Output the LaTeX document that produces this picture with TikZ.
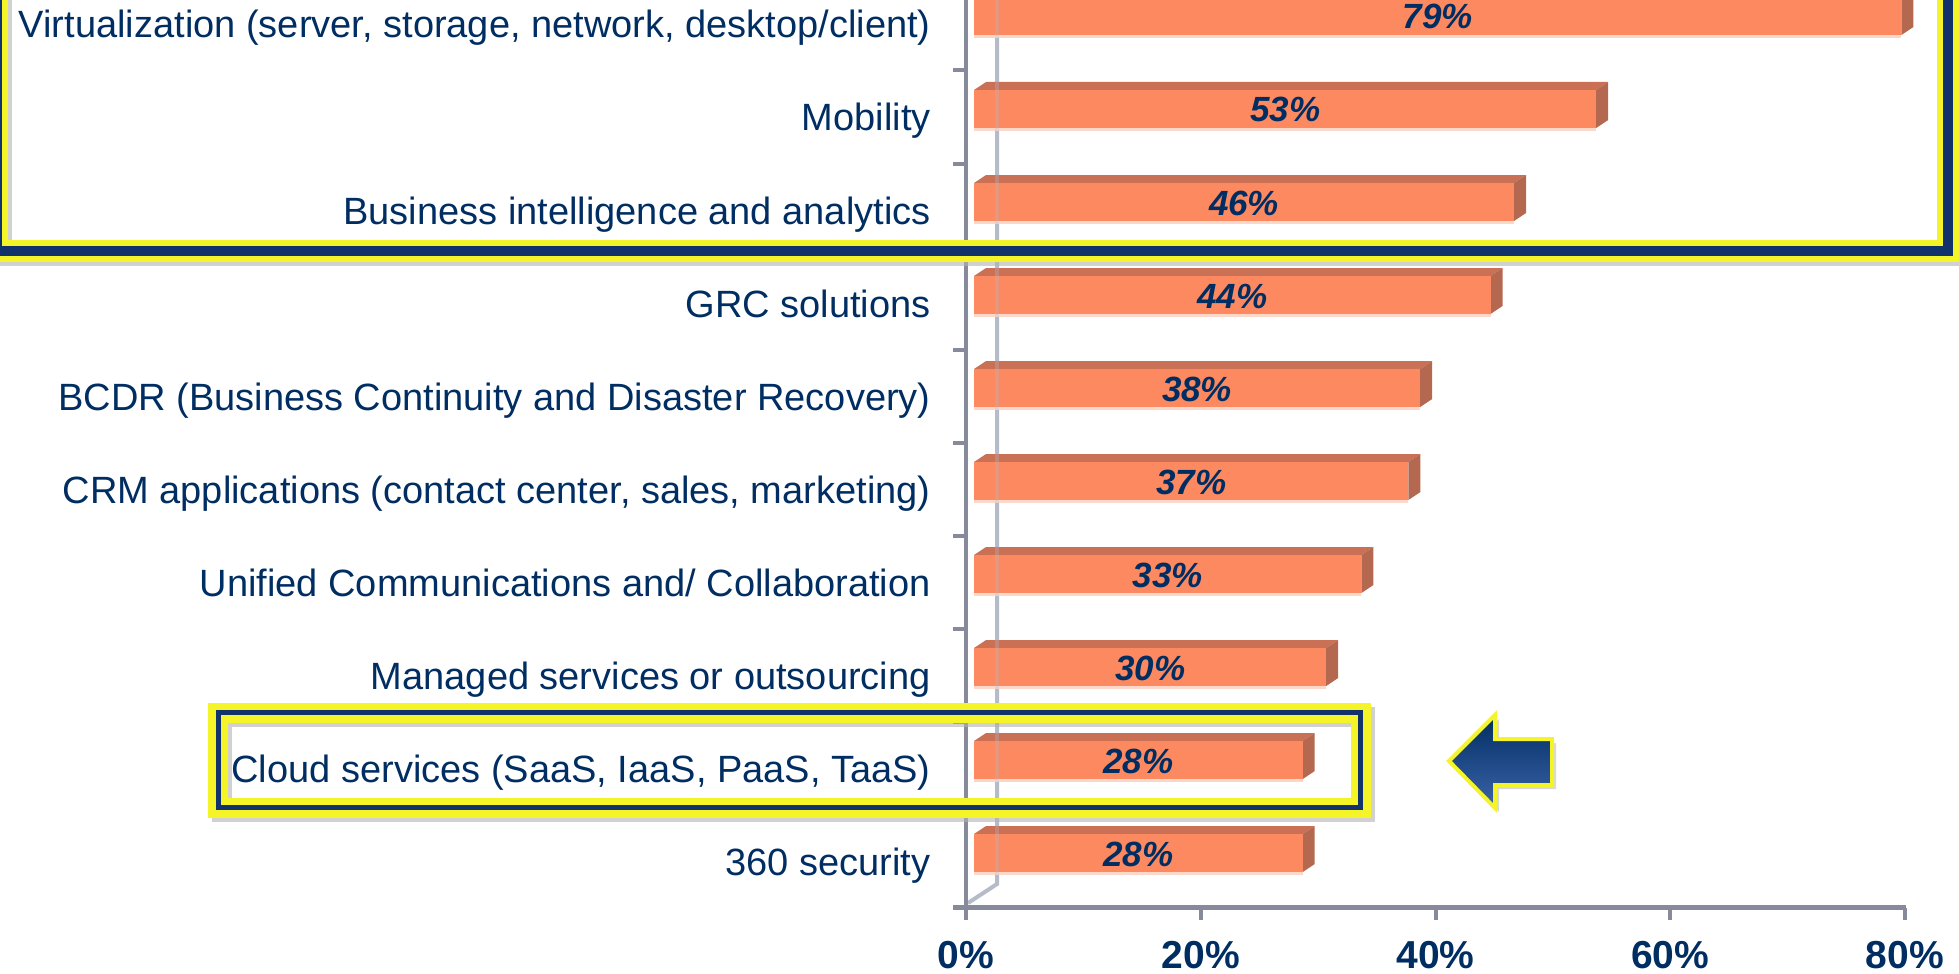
\documentclass[tikz,border=0pt]{standalone}
\usepackage{fontspec}
\setmainfont{Liberation Sans}
\usetikzlibrary{positioning}
\definecolor{navy}{RGB}{0,45,98}
\definecolor{barfront}{RGB}{252,137,95}
\definecolor{bartop}{RGB}{201,112,85}
\definecolor{barside}{RGB}{180,104,80}
\definecolor{barpale}{RGB}{252,216,202}
\definecolor{axisgray}{RGB}{134,138,155}
\definecolor{wallgray}{RGB}{182,187,201}
\definecolor{frameyellow}{RGB}{244,244,40}
\definecolor{framenavy}{RGB}{18,50,108}
\definecolor{arrowlight}{RGB}{60,100,170}
\tikzstyle{catlabel} = [anchor=base east, inner sep=0pt, text=navy, font=\fontsize{19}{22}\selectfont]
\tikzstyle{pctlabel} = [anchor=base, inner sep=0pt, text=navy, font=\fontsize{17.5}{20}\selectfont\bfseries\itshape]
\tikzstyle{ticklabel} = [anchor=base, inner sep=0pt, text=navy, font=\fontsize{19.5}{22}\selectfont\bfseries]
\tikzstyle{axisline} = [draw=axisgray, line width=2pt]
\tikzstyle{wall} = [draw=wallgray, line width=2pt]
\tikzstyle{frameshadow} = [draw=black!30, opacity=0.6]
\tikzstyle{frameyel} = [draw=frameyellow]
\tikzstyle{framenav} = [draw=framenavy]

% one 3d bar with its value and its category label
\newcommand{\chartbar}[4]{%
  \pgfmathsetmacro{\barend}{974+11.74*#3}
  \pgfmathsetmacro{\barmid}{(974+\barend)/2}
  \fill[barpale] (974,#2+19) rectangle (\barend,#2+22);
  \fill[bartop] (974,#2-19) -- (\barend,#2-19) -- (\barend+12,#2-27) -- (986,#2-27) -- cycle;
  \fill[barside] (\barend,#2-19) -- (\barend+12,#2-27) -- (\barend+12,#2+11) -- (\barend,#2+19) -- cycle;
  \fill[barfront] (974,#2-19) rectangle (\barend,#2+19);
  \node[pctlabel] (V#1) at (\barmid,#2+13) {#3\%};
  \node[catlabel] (L#1) at (931,#2+22) {#4};
}

\begin{document}
\begin{tikzpicture}[x=0.5pt, y=-0.5pt]
  \useasboundingbox (0,0) rectangle (1959,974);
  \clip (0,0) rectangle (1959,974);

  % axes and back wall
  \draw[wall] (997,0) -- (997,884) -- (968,903);
  \draw[axisline] (966,0) -- (966,920);
  \draw[axisline, line width=2.5pt] (953,907.5) -- (1906,907.5);
  \foreach \t in {0,...,8}
    \draw[axisline] (953,70.5+93*\t) -- (966,70.5+93*\t);
  \foreach \t in {0,...,4}
    \draw[axisline] (966+234.75*\t,907.5) -- (966+234.75*\t,920);

  % bars
  \chartbar{1}{16}{79}{Virtualization (server, storage, network, desktop/client)}
  \chartbar{2}{109}{53}{Mobility}
  \chartbar{3}{202}{46}{Business intelligence and analytics}
  \chartbar{4}{295}{44}{GRC solutions}
  \chartbar{5}{388}{38}{BCDR (Business Continuity and Disaster Recovery)}
  \chartbar{6}{481}{37}{CRM applications (contact center, sales, marketing)}
  \chartbar{7}{574}{33}{Unified Communications and/ Collaboration}
  \chartbar{8}{667}{30}{Managed services or outsourcing}
  \chartbar{9}{760}{28}{Cloud services (SaaS, IaaS, PaaS, TaaS)}
  \chartbar{10}{853}{28}{360 security}
  \draw[wall, opacity=0.3] (997,0) -- (997,884);

  % tick labels
  \begin{scope}[node distance=117.375pt]
    \node[ticklabel] (T0) at (966,968) {0\%};
    \node[ticklabel, right of=T0] (T1) {20\%};
    \node[ticklabel, right of=T1] (T2) {40\%};
    \node[ticklabel, right of=T2] (T3) {60\%};
    \node[ticklabel, right of=T3] (T4) {80\%};
  \end{scope}

  % highlight frames
  \draw[frameshadow, line width=11pt] (1,-40) rectangle (1952,255);
  \draw[frameyel, line width=11pt] (-3,-40) rectangle (1948,250.5);
  \draw[framenav, line width=5pt] (-3,-40) rectangle (1948,250.5);
  \draw[frameshadow, line width=10pt] (222,716.5) rectangle (1364.5,812);
  \draw[frameyel, line width=10pt] (218,712.5) rectangle (1360.5,807.5);
  \draw[framenav, line width=2.5pt] (218,712.5) rectangle (1360.5,807.5);

  % pointer arrow
  \fill[black!25, opacity=0.6] (1453,765) -- (1499,719) -- (1499,743) -- (1556,743)
    -- (1556,789) -- (1499,789) -- (1499,812) -- cycle;
  \shadedraw[top color=navy, middle color=navy, bottom color=arrowlight,
    draw=frameyellow, line width=2pt, line join=miter]
    (1449,761) -- (1495,715) -- (1495,739) -- (1552,739)
    -- (1552,785) -- (1495,785) -- (1495,808) -- cycle;
\end{tikzpicture}
\end{document}
